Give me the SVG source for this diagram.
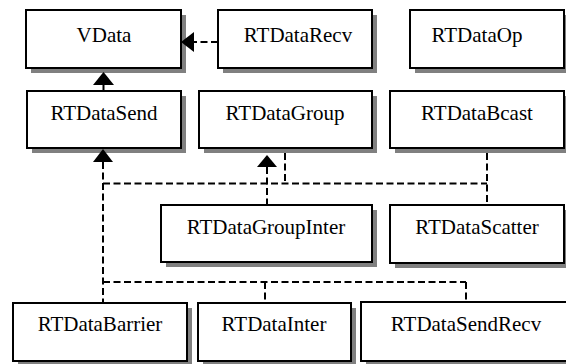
<svg xmlns="http://www.w3.org/2000/svg" width="566" height="364" viewBox="0 0 566 364">
  <style>
    .shadow { fill: #808080; }
    .box { fill: #ffffff; stroke: #000000; stroke-width: 2; }
    .label { font-family: 'Liberation Serif', 'Times New Roman', serif; font-size: 21px; fill: #000000; text-anchor: middle; }
    .dash { fill: none; stroke: #000000; stroke-width: 2; stroke-dasharray: 7 3.5; }
    .solid { fill: none; stroke: #000000; stroke-width: 2; }
    .head { fill: #000000; stroke: none; }
  </style>
  <rect width="566" height="364" fill="#ffffff"/>

  <g id="VData">
    <rect class="shadow" x="31" y="15" width="155" height="58"/>
    <rect class="box" x="26" y="10" width="155" height="58"/>
    <text class="label" x="104" y="42">VData</text>
  </g>
  <g id="RTDataRecv">
    <rect class="shadow" x="223" y="15" width="154" height="58"/>
    <rect class="box" x="218" y="10" width="154" height="58"/>
    <text class="label" x="298" y="42">RTDataRecv</text>
  </g>
  <g id="RTDataOp">
    <rect class="shadow" x="415" y="15" width="154" height="58"/>
    <rect class="box" x="410" y="10" width="154" height="58"/>
    <text class="label" x="477" y="42">RTDataOp</text>
  </g>
  <g id="RTDataSend">
    <rect class="shadow" x="32" y="96" width="154" height="57"/>
    <rect class="box" x="27" y="91" width="154" height="57"/>
    <text class="label" x="104" y="120">RTDataSend</text>
  </g>
  <g id="RTDataGroup">
    <rect class="shadow" x="204" y="96" width="173" height="57"/>
    <rect class="box" x="199" y="91" width="173" height="57"/>
    <text class="label" x="285" y="120">RTDataGroup</text>
  </g>
  <g id="RTDataBcast">
    <rect class="shadow" x="395" y="96" width="174" height="57"/>
    <rect class="box" x="390" y="91" width="174" height="57"/>
    <text class="label" x="477" y="120">RTDataBcast</text>
  </g>
  <g id="RTDataGroupInter">
    <rect class="shadow" x="166" y="210" width="211" height="57"/>
    <rect class="box" x="161" y="205" width="211" height="57"/>
    <text class="label" x="266" y="234">RTDataGroupInter</text>
  </g>
  <g id="RTDataScatter">
    <rect class="shadow" x="395" y="210" width="174" height="58"/>
    <rect class="box" x="390" y="205" width="174" height="58"/>
    <text class="label" x="477" y="234">RTDataScatter</text>
  </g>
  <g id="RTDataBarrier">
    <rect class="shadow" x="18" y="308" width="174" height="58"/>
    <rect class="box" x="13" y="303" width="174" height="58"/>
    <text class="label" x="100" y="331">RTDataBarrier</text>
  </g>
  <g id="RTDataInter">
    <rect class="shadow" x="203" y="308" width="153" height="58"/>
    <rect class="box" x="198" y="303" width="153" height="58"/>
    <text class="label" x="274" y="331">RTDataInter</text>
  </g>
  <g id="RTDataSendRecv">
    <rect class="shadow" x="366" y="307" width="220" height="59"/>
    <rect class="box" x="361" y="302" width="220" height="59"/>
    <text class="label" x="466" y="331">RTDataSendRecv</text>
  </g>

  <g id="connectors">
    <!-- RTDataRecv uses VData -->
    <line class="dash" x1="218" y1="42" x2="194" y2="42"/>
    <polygon class="head" points="181,42 194,32 194,52"/>
    <!-- RTDataSend derives from VData -->
    <line class="solid" x1="103.5" y1="85" x2="103.5" y2="91"/>
    <polygon class="head" points="103.5,72 93,85 114,85"/>
    <!-- classes derived from RTDataSend -->
    <polygon class="head" points="103,149 93,162 113,162"/>
    <line class="dash" x1="103" y1="162" x2="103" y2="303"/>
    <line class="dash" x1="103" y1="183.5" x2="487" y2="183.5"/>
    <line class="dash" x1="285" y1="153" x2="285" y2="183.5"/>
    <line class="dash" x1="487" y1="153" x2="487" y2="205"/>
    <line class="dash" x1="103" y1="282" x2="466" y2="282"/>
    <line class="dash" x1="265" y1="282" x2="265" y2="303"/>
    <line class="dash" x1="466" y1="282" x2="466" y2="302"/>
    <!-- RTDataGroupInter derives from RTDataGroup -->
    <polygon class="head" points="267,155 257,167 277,167"/>
    <line class="dash" x1="267" y1="167" x2="267" y2="205"/>
  </g>
</svg>
